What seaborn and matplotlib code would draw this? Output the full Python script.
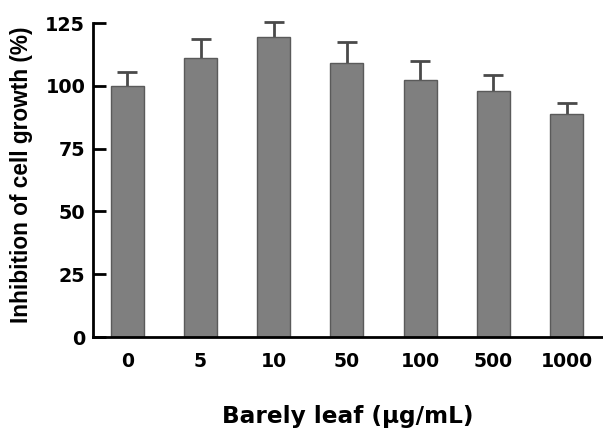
import matplotlib
matplotlib.use("Agg")
import matplotlib.pyplot as plt
import seaborn as sns
import pandas as pd
import numpy as np

categories = ["0", "5", "10", "50", "100", "500", "1000"]
values = [100.0, 111.2, 119.3, 109.3, 102.3, 97.9, 89.0]
errors = [5.4, 7.3, 6.0, 8.3, 7.8, 6.5, 4.2]
y_ticks = [0, 25, 50, 75, 100, 125]

sns.set_theme(style="white")
plt.rcParams['font.family'] = ['DejaVu Sans']
plt.rcParams['font.weight'] = 'bold'
plt.rcParams['text.color'] = 'black'

df = pd.DataFrame({"conc": categories, "val": values})

fig = plt.figure(figsize=(6.03, 4.28), dpi=100)
ax = fig.add_axes([0.154, 0.2126, 0.844, 0.7334])

sns.barplot(data=df, x="conc", y="val", order=categories, color="#7f7f7f",
            saturation=1, width=0.45, edgecolor="#5a5a5a", linewidth=1.0, ax=ax, zorder=2)

xs = np.arange(len(categories))
ax.errorbar(xs, values, yerr=errors, fmt="none",
            ecolor="#4a4a4a", elinewidth=2, capsize=7.5, capthick=2, clip_on=False, zorder=1)

ax.set_xlim(-0.47, 6.48)
ax.set_ylim(0, 125)
ax.set_yticks(y_ticks)
ax.set_yticklabels([str(t) for t in y_ticks], fontsize=13.8, fontweight='bold',
                   family='DejaVu Sans', color='black')
ax.set_xticks(xs)
ax.set_xticklabels(categories, fontsize=13.6, fontweight='bold', family='DejaVu Sans',
                   color='black')

for s in ["top", "right"]:
    ax.spines[s].set_visible(False)
for s in ["left", "bottom"]:
    ax.spines[s].set_linewidth(2)
    ax.spines[s].set_color("black")

ax.tick_params(axis="y", direction="in", length=9, width=2, pad=5.5, left=True, colors="black")
ax.tick_params(axis="x", length=0, pad=11, colors="black")

ax.set_xlabel("")
ax.set_ylabel("")
fig.text(22 / 603, 1 - 174.5 / 428, "Inhibition of cell growth (%)", rotation=90,
         ha="center", va="center", fontsize=16.3, fontweight='bold', color='black',
         family=['Liberation Sans', 'DejaVu Sans'])
fig.text(347.5 / 603, 1 - 423 / 428, "Barely leaf (μg/mL)", ha="center", va="baseline",
         fontsize=16.7, fontweight='bold', color='black', family='DejaVu Sans')

fig.savefig("out.png", dpi=100, facecolor="white")
